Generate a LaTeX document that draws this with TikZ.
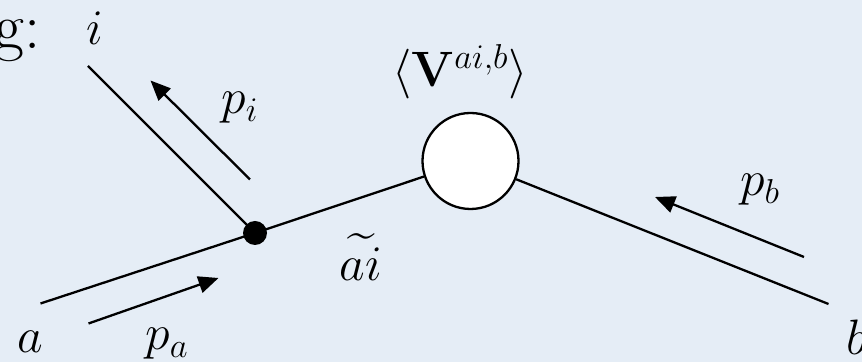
\documentclass[tikz,border=0pt]{standalone}
\usepackage{amsmath}
\usetikzlibrary{arrows.meta}
\definecolor{paper}{RGB}{229,237,246}
\begin{document}
\begin{tikzpicture}[x=0.5pt,y=-0.5pt,
  leg/.style={line width=1.15pt},
  mom/.style={line width=1.15pt,-{Triangle[length=10pt,width=8.5pt]}},
  lbl/.style={inner sep=0pt,font=\fontsize{23.5}{28}\selectfont},
  vertexdot/.style={circle,fill=black,inner sep=0pt,minimum size=12pt},
  blob/.style={circle,draw=black,fill=white,line width=1.15pt,inner sep=0pt,minimum size=48pt}]
\useasboundingbox (0,0) rectangle (862,362);
\clip (0,0) rectangle (862,362);
\fill[paper] (0,0) rectangle (862,362);
% title fragment
\node[inner sep=0pt,anchor=base east,font=\fontsize{32.5}{38}\selectfont] (title) at (41,49) {g:};
% nodes
\node[vertexdot] (dot) at (255,233) {};
\node[blob] (blob) at (470.5,161) {};
\coordinate (iend) at (88,66);
\coordinate (aend) at (40.5,303.5);
\coordinate (bend) at (828.5,304);
% legs
\draw[leg] (iend) -- (dot.center);
\draw[leg] (aend) -- (dot.center);
\draw[leg] (dot.center) -- (blob);
\draw[leg] (blob) -- (bend);
% momentum arrows
\coordinate (pit) at (250,179.5);
\coordinate (pih) at (150.5,80.5);
\coordinate (pat) at (88.5,323.5);
\coordinate (pah) at (218.5,278);
\coordinate (pbt) at (804,257);
\coordinate (pbh) at (655,197);
\coordinate (xt) at (780,395);
\coordinate (xh) at (702,369);
\draw[mom] (pit) -- (pih);
\draw[mom] (pat) -- (pah);
\draw[mom] (pbt) -- (pbh);
\draw[mom] (xt) -- (xh);
% labels
\node[lbl] (li) at (95,28) {$i$};
\node[lbl] (lpi) at (240,108) {$p_i$};
\node[lbl] (lv) at (460,72) {$\langle\mathbf{V}^{ai,b}\rangle$};
\node[lbl] (lpb) at (760,190) {$p_b$};
\node[lbl] (lai) at (361,257) {$\widetilde{ai}$};
\node[lbl] (la) at (30,342) {$a$};
\node[lbl] (lpa) at (167,344) {$p_a$};
\node[lbl] (lb) at (857,337) {$b$};
\end{tikzpicture}
\end{document}
